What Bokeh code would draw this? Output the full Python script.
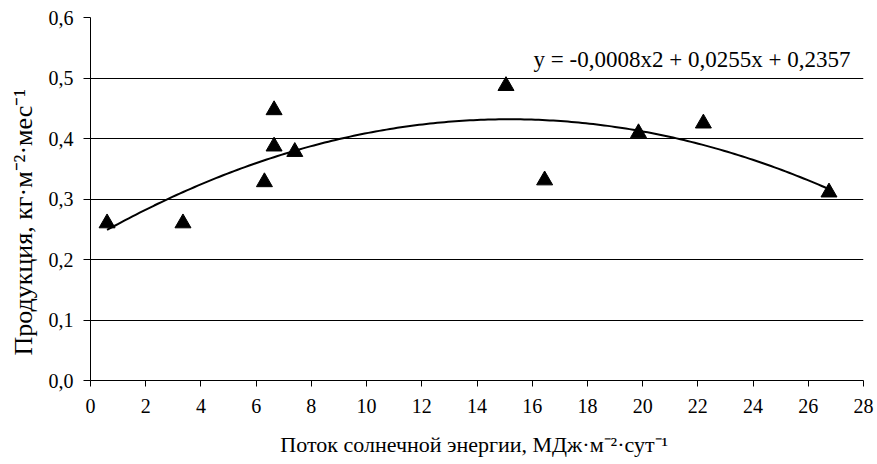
import numpy as np
from bokeh.plotting import figure
from bokeh.models import Range1d, FixedTicker, CustomJSTickFormatter, Label, Title
from bokeh.embed import file_html
from bokeh.resources import INLINE

# Solar energy flux (MJ m^-2 day^-1) and production (kg m^-2 month^-1)
solar_flux = [0.6, 3.35, 6.3, 6.65, 6.65, 7.4, 15.05, 16.45, 19.85, 22.2, 26.75]
production = [0.26, 0.26, 0.328, 0.447, 0.387, 0.378, 0.487, 0.331, 0.409, 0.425, 0.311]

x_ticks = list(range(0, 29, 2))
y_ticks = [0.0, 0.1, 0.2, 0.3, 0.4, 0.5, 0.6]

equation_text = "y = -0,0008x2 + 0,0255x + 0,2357"
x_title = "Поток солнечной энергии,  МДж·м⁻²·сут⁻¹"
y_title = "Продукция, кг·м⁻²·мес⁻¹"

FONT = "Liberation Serif"

p = figure(width=877, height=464, output_backend="svg", toolbar_location=None,
           x_range=Range1d(0, 28), y_range=Range1d(0, 0.6),
           min_border_left=90, min_border_right=14, min_border_top=17, min_border_bottom=84)
p.outline_line_color = None
p.background_fill_color = "white"
p.border_fill_color = "white"

# second-order polynomial trend line fitted to the observations
coef = np.polyfit(solar_flux, production, 2)
xs = np.linspace(min(solar_flux), max(solar_flux), 200)
p.line(xs, np.polyval(coef, xs), line_color="black", line_width=2)

p.scatter(solar_flux, production, marker="triangle", size=16,
          fill_color="black", line_color="black")

p.add_layout(Label(x=16.05, y=0.5306, text=equation_text, text_font=FONT,
                   text_font_size="23px", text_color="black",
                   text_baseline="alphabetic"))

comma = CustomJSTickFormatter(code="return tick.toFixed(1).replace('.', ',');")

p.xaxis.ticker = FixedTicker(ticks=x_ticks)
p.yaxis.ticker = FixedTicker(ticks=y_ticks)
p.yaxis.formatter = comma
p.xgrid.grid_line_color = None
p.ygrid.ticker = FixedTicker(ticks=y_ticks)
p.ygrid.grid_line_color = "black"
p.ygrid.grid_line_width = 1

for ax in (p.xaxis[0], p.yaxis[0]):
    ax.axis_line_color = "black"
    ax.major_tick_line_color = "black"
    ax.minor_tick_line_color = None
    ax.major_tick_out = 6
    ax.major_tick_in = 0
    ax.major_label_text_font = FONT
    ax.major_label_text_font_size = "20px"
    ax.major_label_text_color = "black"

p.yaxis.major_tick_out = 7
p.yaxis.major_label_standoff = 10

p.xaxis.axis_label = x_title
p.xaxis.axis_label_text_font = FONT
p.xaxis.axis_label_text_font_size = "22px"
p.xaxis.axis_label_text_font_style = "normal"
p.xaxis.axis_label_text_color = "black"
p.xaxis.major_label_standoff = 12
p.xaxis.axis_label_standoff = 16

# vertical axis title, set in a side panel and started a little above the frame bottom
p.add_layout(Title(text=y_title, text_font=FONT, text_font_size="26px",
                   text_font_style="normal", text_color="black",
                   align="left", offset=25, vertical_align="middle", standoff=14),
             "left")

open("out.html", "w").write(file_html(p, INLINE))
